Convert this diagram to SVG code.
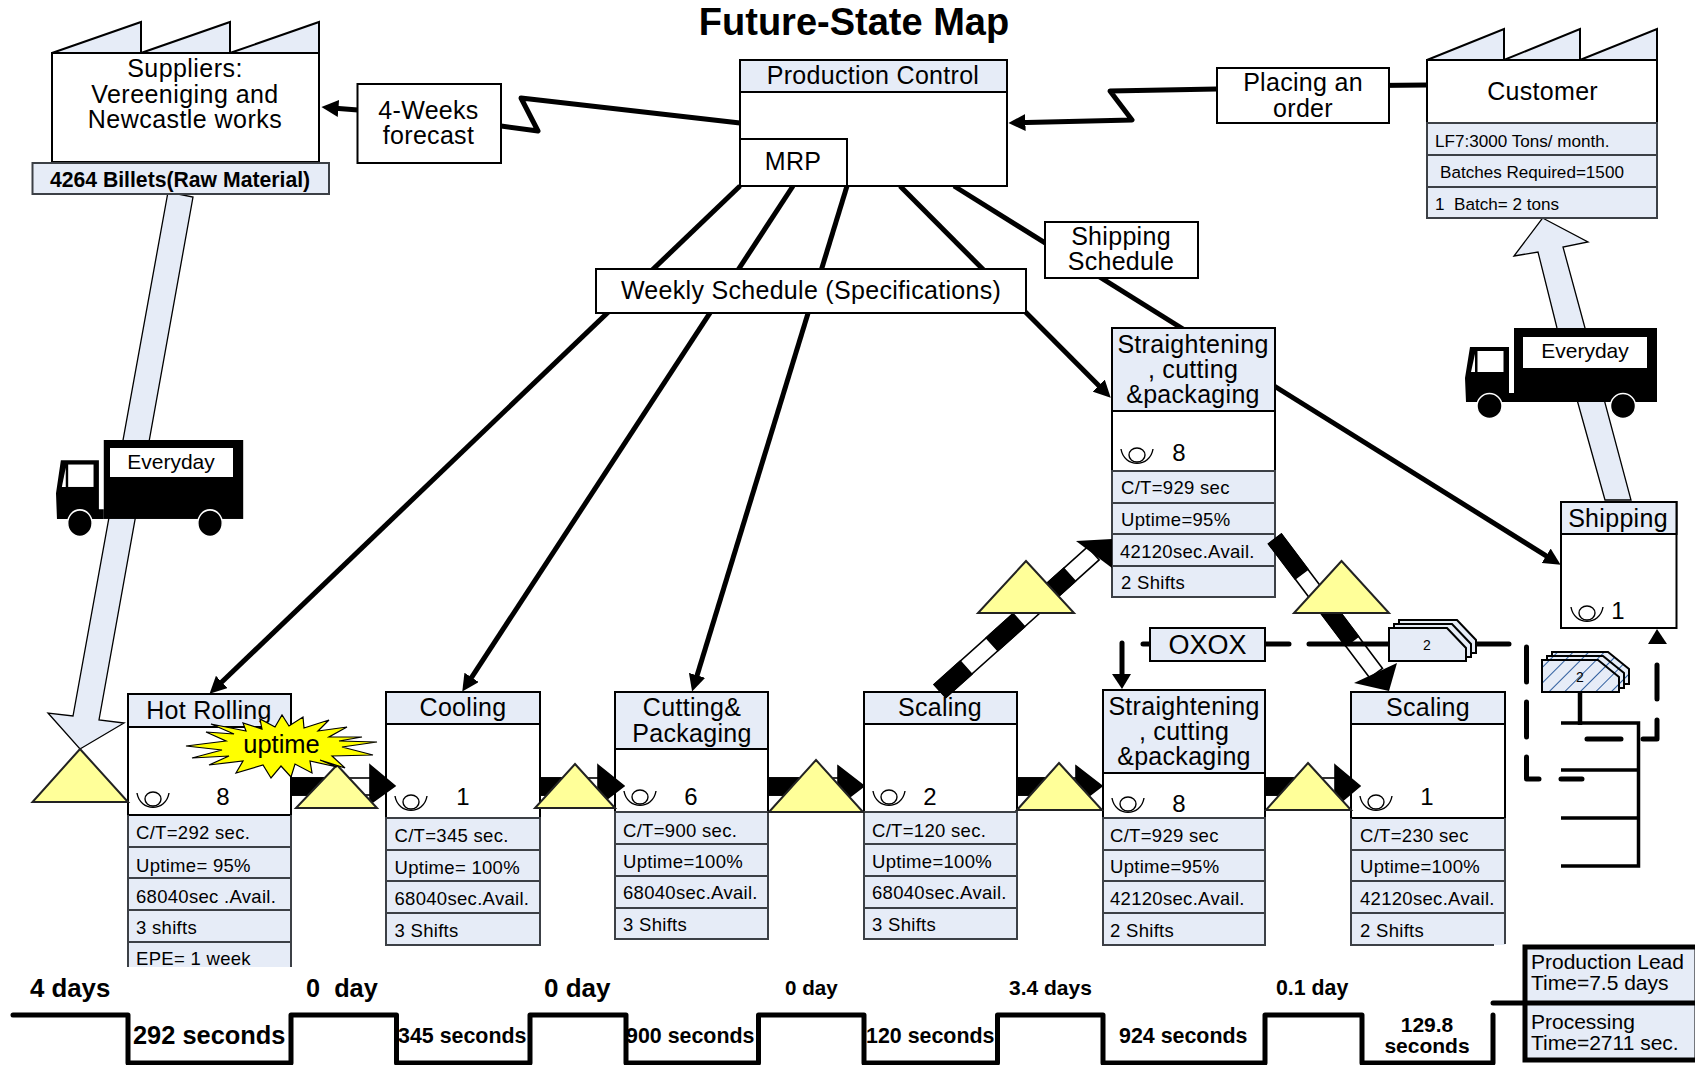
<svg xmlns="http://www.w3.org/2000/svg" width="1695" height="1065" viewBox="0 0 1695 1065">
<style>
text{font-family:"Liberation Sans",Arial,sans-serif;fill:#000;white-space:pre}
.h{font-size:25px;text-anchor:middle;letter-spacing:.3px;transform:translateY(1.5px)}
.r{font-size:18.5px;letter-spacing:.3px}
.n{font-size:24px;text-anchor:middle}
.b{font-weight:bold}
.m{text-anchor:middle}
.box{fill:#fff;stroke:#000;stroke-width:2}
.blue{fill:#E6ECF7;stroke:#000;stroke-width:2}
.row{fill:#E6ECF7;stroke:#3c4046;stroke-width:2}
.tri{fill:#FFFF99;stroke:#222;stroke-width:2}
.ln{fill:none;stroke:#000;stroke-width:5;stroke-linejoin:round}
.dash{fill:none;stroke:#000;stroke-width:5;stroke-linecap:round;stroke-linejoin:round}
.big{fill:#E6ECF7;stroke:#000;stroke-width:1.3}
.k{stroke:#000;stroke-width:1.6}
.d{font-size:21px}
.cu{font-size:17.1px}
</style>
<defs>
<marker id="ah" markerUnits="userSpaceOnUse" markerWidth="17" markerHeight="17" viewBox="0 0 18 18" refX="10" refY="9" orient="auto"><path d="M0,0 18,9 0,18z" fill="#000"/></marker>
<pattern id="hatch" width="11" height="11" patternUnits="userSpaceOnUse" patternTransform="rotate(45)"><rect width="11" height="11" fill="#E6ECF7"/><line x1="0" y1="0" x2="0" y2="11" stroke="#2F5E9E" stroke-width="2"/></pattern>
<g id="eye"><ellipse rx="8" ry="7" fill="none" stroke="#000" stroke-width="1.4"/><path d="M-16,-6C-13,13 13,13 16,-6" fill="none" stroke="#000" stroke-width="1.4"/></g>
<g id="truck"><rect x="49" y="0" width="143" height="74" fill="#000"/><path d="M1,74 0,50 5,19H44V65H49V74Z" fill="#000"/><rect x="12.500" y="23" width="26" height="21" fill="#fff"/><path d="M10,26 6,44H10Z" fill="#fff"/><circle cx="24.500" cy="78" r="12.500" fill="#000" stroke="#fff" stroke-width="1.500"/><circle cx="158" cy="78" r="12.500" fill="#000" stroke="#fff" stroke-width="1.500"/></g>
</defs>
<rect width="1695" height="1065" fill="#fff"/>

<text x="854" y="35" class="m b" style="font-size:38px">Future-State Map</text>

<g id="material-flow">
<path class="big" d="M168,192 193,197 99,720 124,723 80,749 48,713 73,716Z"/>
<path class="big" d="M1605,500 1557,328 1538,252 1514,256 1542.600,218 1588,242 1563,247 1585,328 1631,500Z"/>
</g>

<g id="connectors">
<path class="ln" d="M740,123 521,98 538,131 501,126"/>
<path class="ln" d="M358,110 329,107.700" marker-end="url(#ah)"/>
<path class="ln" d="M1325,86 1427,85"/>
<path class="ln" d="M1217,89 1110,91 1132,120 1016,122.700" marker-end="url(#ah)"/>
<path class="ln" d="M740,186 215,688.500" marker-end="url(#ah)"/>
<path class="ln" d="M793,186 466.400,685.300" marker-end="url(#ah)"/>
<path class="ln" d="M847,186 694.300,684.400" marker-end="url(#ah)"/>
<path class="ln" d="M900,186 1105.400,392.300" marker-end="url(#ah)"/>
<path class="ln" d="M954,186 1554.200,560.800" marker-end="url(#ah)"/>
</g>

<g id="suppliers">
<path class="blue" d="M52,53 141,22V53L230,22V53L319,22V53Z"/>
<rect class="box" x="52" y="53" width="267" height="109"/>
<g style="letter-spacing:.45px"><text class="h" x="185" y="75" style="letter-spacing:.45px">Suppliers:</text><text class="h" x="185" y="101" style="letter-spacing:.45px">Vereeniging and</text><text class="h" x="185" y="126" style="letter-spacing:.45px">Newcastle works</text></g>
</g>
<g id="inventory"><rect class="row" x="32.500" y="163" width="296.500" height="31"/><text class="b m" x="180" y="187" style="font-size:21.200px">4264 Billets(Raw Material)</text></g>
<g id="forecast"><rect class="box" x="357.500" y="84" width="143.500" height="79"/><text class="h" x="428.500" y="117">4-Weeks</text><text class="h" x="428.500" y="142">forecast</text></g>

<g id="production-control">
<rect class="box" x="740" y="60" width="267" height="126"/><rect class="blue" x="740" y="60" width="267" height="32"/>
<text class="h" x="873" y="82">Production Control</text>
<rect class="box" x="740" y="139" width="107" height="47"/><text class="h" x="793" y="168">MRP</text>
</g>
<g id="placing"><rect class="box" x="1217" y="68" width="172" height="55"/><text class="h" x="1303" y="89">Placing an</text><text class="h" x="1303" y="115">order</text></g>
<g id="customer">
<path class="blue" d="M1427,60 1504,29V60L1580,29V60L1657,29V60Z"/>
<rect class="box" x="1427" y="60" width="230" height="63"/>
<text class="h" x="1542.600" y="98">Customer</text>
<rect class="row" x="1427" y="123" width="230" height="32"/><rect class="row" x="1427" y="155" width="230" height="32"/><rect class="row" x="1427" y="187" width="230" height="31"/>
<text class="cu" x="1435" y="147">LF7:3000 Tons/ month.</text><text class="cu" x="1440" y="178">Batches Required=1500</text><text class="cu" x="1435" y="210">1  Batch= 2 tons</text>
</g>
<g id="shipping-schedule"><rect class="box" x="1045" y="222" width="153" height="56"/><text class="h" x="1121" y="243">Shipping</text><text class="h" x="1121" y="268">Schedule</text></g>
<g id="weekly-schedule"><rect class="box" x="596" y="269" width="430" height="44"/><text class="h" x="811" y="297">Weekly Schedule (Specifications)</text></g>

<g id="truck-right"><use href="#truck" x="1465" y="328"/><rect x="1523" y="337" width="124" height="31" fill="#fff"/><text class="m" x="1585" y="358" style="font-size:21px">Everyday</text></g>
<g id="truck-left"><use href="#truck" transform="translate(56,440) scale(.975,1.067)"/><rect x="110" y="448" width="123" height="29" fill="#fff"/><text class="m" x="171" y="469" style="font-size:21px">Everyday</text></g>

<g id="straightening-top">
<rect class="blue" x="1112" y="328" width="163" height="83"/><rect class="box" x="1112" y="411" width="163" height="60"/>
<rect class="row" x="1112" y="471" width="163" height="32"/><rect class="row" x="1112" y="503" width="163" height="31"/><rect class="row" x="1112" y="534" width="163" height="32"/><rect class="row" x="1112" y="566" width="163" height="31"/>
<text class="h" x="1193" y="351">Straightening</text><text class="h" x="1193" y="376">, cutting</text><text class="h" x="1193" y="401">&amp;packaging</text>
<use href="#eye" x="1137" y="455"/><text class="n" x="1179" y="461">8</text>
<text class="r" x="1121" y="494">C/T=929 sec</text><text class="r" x="1121" y="526">Uptime=95%</text><text class="r" x="1120" y="558">42120sec.Avail.</text><text class="r" x="1121" y="589">2 Shifts</text>
</g>
<g id="shipping">
<rect class="box" x="1561" y="502" width="115.500" height="126"/><rect class="blue" x="1561" y="502" width="115.500" height="32"/>
<text class="h" x="1618" y="525">Shipping</text><use href="#eye" x="1587" y="613"/><text class="n" x="1618" y="619">1</text>
</g>

<g id="hot-rolling">
<rect x="128" y="727" width="163" height="240" fill="#E6ECF7"/>
<rect class="blue" x="128" y="694" width="163" height="33"/><rect class="box" x="128" y="727" width="163" height="88"/>
<path fill="none" stroke="#3c4046" stroke-width="2" d="M128,815V967M291,815V967M128,847H291M128,878H291M128,910H291M128,942H291"/>
<text class="h" x="209" y="717">Hot Rolling</text><use href="#eye" x="153" y="799"/><text class="n" x="223" y="805">8</text>
<text class="r" x="136" y="839">C/T=292 sec.</text><text class="r" x="136" y="872">Uptime= 95%</text><text class="r" x="136" y="903">68040sec .Avail.</text><text class="r" x="136" y="934">3 shifts</text><text class="r" x="136" y="965">EPE= 1 week</text>
</g>
<g id="cooling">
<rect class="blue" x="386" y="692" width="154" height="32"/><rect class="box" x="386" y="724" width="154" height="94"/>
<rect class="row" x="386" y="818" width="154" height="32"/><rect class="row" x="386" y="850" width="154" height="31"/><rect class="row" x="386" y="881" width="154" height="32"/><rect class="row" x="386" y="913" width="154" height="32"/>
<text class="h" x="463" y="714">Cooling</text><use href="#eye" x="411" y="802"/><text class="n" x="463" y="805">1</text>
<text class="r" x="394.500" y="842">C/T=345 sec.</text><text class="r" x="394.500" y="874">Uptime= 100%</text><text class="r" x="394.500" y="905">68040sec.Avail.</text><text class="r" x="394.500" y="937">3 Shifts</text>
</g>
<g id="cutting">
<rect class="blue" x="615" y="692" width="153" height="57"/><rect class="box" x="615" y="749" width="153" height="63"/>
<rect class="row" x="615" y="812" width="153" height="32"/><rect class="row" x="615" y="844" width="153" height="32"/><rect class="row" x="615" y="876" width="153" height="32"/><rect class="row" x="615" y="908" width="153" height="31"/>
<text class="h" x="692" y="714">Cutting&amp;</text><text class="h" x="692" y="740">Packaging</text><use href="#eye" x="640" y="797"/><text class="n" x="691" y="805">6</text>
<text class="r" x="623" y="837">C/T=900 sec.</text><text class="r" x="623" y="868">Uptime=100%</text><text class="r" x="623" y="899">68040sec.Avail.</text><text class="r" x="623" y="931">3 Shifts</text>
</g>
<g id="scaling-mid">
<rect class="blue" x="864" y="692" width="153" height="32"/><rect class="box" x="864" y="724" width="153" height="88"/>
<rect class="row" x="864" y="812" width="153" height="32"/><rect class="row" x="864" y="844" width="153" height="32"/><rect class="row" x="864" y="876" width="153" height="32"/><rect class="row" x="864" y="908" width="153" height="31"/>
<text class="h" x="940" y="714">Scaling</text><use href="#eye" x="889" y="797"/><text class="n" x="930" y="805">2</text>
<text class="r" x="872" y="837">C/T=120 sec.</text><text class="r" x="872" y="868">Uptime=100%</text><text class="r" x="872" y="899">68040sec.Avail.</text><text class="r" x="872" y="931">3 Shifts</text>
</g>
<g id="straightening-bottom">
<rect class="blue" x="1103" y="690" width="162" height="83"/><rect class="box" x="1103" y="773" width="162" height="45"/>
<rect class="row" x="1103" y="818" width="162" height="32"/><rect class="row" x="1103" y="850" width="162" height="31"/><rect class="row" x="1103" y="881" width="162" height="32"/><rect class="row" x="1103" y="913" width="162" height="32"/>
<text class="h" x="1184" y="713">Straightening</text><text class="h" x="1184" y="738">, cutting</text><text class="h" x="1184" y="763">&amp;packaging</text><use href="#eye" x="1128" y="804"/><text class="n" x="1179" y="812">8</text>
<text class="r" x="1110" y="842">C/T=929 sec</text><text class="r" x="1110" y="873">Uptime=95%</text><text class="r" x="1110" y="905">42120sec.Avail.</text><text class="r" x="1110" y="937">2 Shifts</text>
</g>
<g id="scaling-right">
<rect x="1351" y="818" width="154" height="127" fill="#E6ECF7"/>
<rect class="blue" x="1351" y="692" width="154" height="32"/><rect class="box" x="1351" y="724" width="154" height="94"/>
<path fill="none" stroke="#3c4046" stroke-width="2" d="M1505,818V944M1494,945H1351V818M1351,850H1505M1351,881H1505M1351,913H1505"/>
<text class="h" x="1428" y="714">Scaling</text><use href="#eye" x="1376" y="802"/><text class="n" x="1427" y="805">1</text>
<text class="r" x="1360" y="842">C/T=230 sec</text><text class="r" x="1360" y="873">Uptime=100%</text><text class="r" x="1360" y="905">42120sec.Avail.</text><text class="r" x="1360" y="937">2 Shifts</text>
</g>

<g id="push-arrows">
<g class="k"><rect x="291" y="778" width="80" height="17" fill="#fff"/><rect x="291" y="778" width="46" height="17" fill="#000"/><path d="M370,765 395,786 370,804Z" fill="#000"/></g>
<g class="k"><rect x="540" y="778" width="60" height="17" fill="#fff"/><rect x="540" y="778" width="35" height="17" fill="#000"/><path d="M598,765 624,786 598,806Z" fill="#000"/></g>
<g class="k"><rect x="768" y="778" width="72" height="17" fill="#fff"/><rect x="768" y="778" width="46" height="17" fill="#000"/><path d="M838,766 864,786 838,806Z" fill="#000"/></g>
<g class="k"><rect x="1017" y="778" width="62" height="17" fill="#fff"/><rect x="1017" y="778" width="42" height="17" fill="#000"/><path d="M1076,766 1102,786 1076,806Z" fill="#000"/></g>
<g class="k"><rect x="1265" y="778" width="72" height="17" fill="#fff"/><rect x="1265" y="778" width="43" height="17" fill="#000"/><path d="M1335,765 1360,786 1335,807Z" fill="#000"/></g>
<g transform="translate(940,691) rotate(-41.900)" class="k"><rect x="0" y="-8.700" width="206" height="17.400" fill="#fff"/><rect x="0" y="-8.700" width="35" height="17.400" fill="#000"/><rect x="70" y="-8.700" width="36" height="17.400" fill="#000"/><rect x="140" y="-8.700" width="34" height="17.400" fill="#000"/></g>
<path d="M1076,541 1112,539V568Z" fill="#000"/>
<g transform="translate(1275,539) rotate(53)" class="k"><rect x="0" y="-8" width="168" height="16" fill="#fff"/><rect x="0" y="-8" width="44" height="16" fill="#000"/><rect x="84" y="-8" width="44" height="16" fill="#000"/></g>
<path d="M1354,683 1397,663 1389,691Z" fill="#000"/>
</g>

<g id="inventory-triangles">
<path class="tri" d="M80,749 128,802H32.500Z"/>
<path class="tri" d="M337,765 377,808H296Z"/>
<path class="tri" d="M575,764 615,808H535Z"/>
<path class="tri" d="M816,760 863,812H769Z"/>
<path class="tri" d="M1059,763 1102,810H1017Z"/>
<path class="tri" d="M1308,763 1351,810H1266Z"/>
<path class="tri" d="M1026,561 1074,613H978Z"/>
<path class="tri" d="M1341.500,561 1389,613H1294Z"/>
</g>

<g id="kaizen-uptime">
<path fill="#FFFF00" stroke="#000" stroke-width="1.200" d="M377,742 342,747 373,755 332,756 345,768 320,760 337,767 310,761 312,773 295,764 291,777 281,766 271,778 263,765 236,773 243,761 209,765 229,756 192,758 222,750 186,746 226,741 206,732 234,734 211,724 246,731 243,723 262,729 260,719 275,727 282,715 289,726 303,717 304,728 329,720 318,731 347,727 329,737 362,737 339,741Z"/>
<text class="m" x="281.500" y="753" style="font-size:25.500px">uptime</text>
</g>

<g id="withdrawal-lines">
<path class="dash" d="M1122,643V676"/><path d="M1112,674H1131L1122,689Z" fill="#000"/>
<path class="dash" d="M1143,644H1150M1265,644H1289M1309,644H1391M1477,644H1509"/>
<path class="dash" d="M1526.500,647V682M1526.500,702V737M1526.500,757V779H1539M1561,779H1582M1587,739H1621M1643,739H1657V720M1657,699V665"/>
<path d="M1648,644H1667L1657,629Z" fill="#000"/>
<path d="M1580,692V725" stroke="#000" stroke-width="4.500" fill="none"/>
</g>
<g id="oxox"><rect class="blue" x="1150" y="628" width="115" height="33"/><text class="m" x="1207.500" y="654" style="font-size:27px">OXOX</text></g>
<g id="kanban">
<path class="blue" d="M1399,620H1457L1476,640V653H1399Z"/><path class="blue" d="M1394,624H1452L1471,644V657H1394Z"/><path class="blue" d="M1389,628H1447L1466,648V661H1389Z"/>
<text class="m" x="1427" y="650" style="font-size:14px">2</text>
</g>
<g id="kanban-hatched">
<path fill="url(#hatch)" stroke="#000" stroke-width="2" d="M1552,652H1608L1629,669V684H1552Z"/><path fill="url(#hatch)" stroke="#000" stroke-width="2" d="M1547,656H1603L1624,673V688H1547Z"/><path fill="url(#hatch)" stroke="#000" stroke-width="2" d="M1542,660H1598L1619,677V692H1542Z"/>
<text class="m" x="1580" y="682" style="font-size:14px">2</text>
</g>
<g id="schedule-box"><path d="M1561,723H1638.500V866H1561M1561,770H1638.500M1561,818H1638.500" fill="none" stroke="#000" stroke-width="3.500"/></g>

<g id="timeline">
<path class="dash" d="M13,1015H128V1063H291V1015H396.500V1063H530V1015H626V1063H758.500V1015H864V1063H997.500V1015H1103V1063H1265V1015H1362V1063H1493V1015"/>
<path class="dash" d="M1493,1003H1523"/>
<g class="b">
<text x="30" y="997" style="font-size:25.800px">4 days</text><text x="306" y="997" style="font-size:25.300px">0  day</text><text x="544" y="997" style="font-size:26px">0 day</text>
<text x="785" y="995" style="font-size:20.600px">0 day</text><text x="1009" y="995" style="font-size:21px">3.4 days</text><text x="1276" y="995" style="font-size:21.300px">0.1 day</text>
<text x="133" y="1044" style="font-size:25.400px">292 seconds</text><text x="398" y="1043" style="font-size:21.400px">345 seconds</text><text x="626" y="1043" style="font-size:21.400px">900 seconds</text><text x="866" y="1043" style="font-size:21.400px">120 seconds</text><text x="1119" y="1043" style="font-size:21.400px">924 seconds</text>
<text class="m" x="1427" y="1032" style="font-size:21px">129.8</text><text class="m" x="1427" y="1053" style="font-size:21px">seconds</text>
</g>
</g>
<g id="lead-time">
<rect x="1525" y="947" width="172" height="113" fill="#E6ECF7" stroke="#000" stroke-width="5"/><path d="M1523,1003H1695" stroke="#000" stroke-width="5"/>
<text class="d" x="1531" y="969">Production Lead</text><text class="d" x="1531" y="990">Time=7.5 days</text><text class="d" x="1531" y="1029">Processing</text><text class="d" x="1531" y="1050">Time=2711 sec.</text>
</g>
</svg>
